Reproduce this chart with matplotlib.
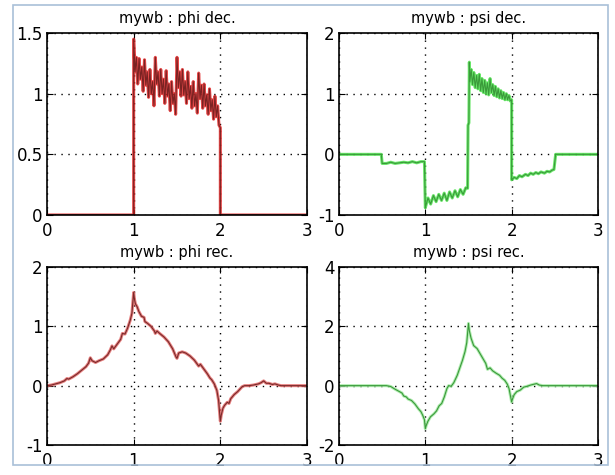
import matplotlib
matplotlib.use("Agg")
import matplotlib.pyplot as plt
from matplotlib.patches import Rectangle

# phi dec : sawtooth on [1, 2], read at 1/64 steps
phi_dec_x = [0, 1.0,
             1.0, 1.0156, 1.0312, 1.0469, 1.0625, 1.0781, 1.0938, 1.1094,
             1.125, 1.1406, 1.1562, 1.1719, 1.1875, 1.2031, 1.2188, 1.2344,
             1.25, 1.2656, 1.2812, 1.2969, 1.3125, 1.3281, 1.3438, 1.3594,
             1.375, 1.3906, 1.4062, 1.4219, 1.4375, 1.4531, 1.4688, 1.4844,
             1.5, 1.5156, 1.5312, 1.5469, 1.5625, 1.5781, 1.5938, 1.6094,
             1.625, 1.6406, 1.6562, 1.6719, 1.6875, 1.7031, 1.7188, 1.7344,
             1.75, 1.7656, 1.7812, 1.7969, 1.8125, 1.8281, 1.8438, 1.8594,
             1.875, 1.8906, 1.9062, 1.9219, 1.9375, 1.9531, 1.9688, 1.9844,
             2.0, 2.0, 3.0]
phi_dec_y = [0, 0,
             1.45, 1.18, 1.30, 1.08, 1.29, 1.12, 1.22, 1.02,
             1.28, 1.07, 1.18, 0.97, 1.20, 1.00, 1.10, 0.90,
             1.30, 1.08, 1.18, 0.98, 1.20, 1.00, 1.12, 0.92,
             1.19, 0.98, 1.08, 0.86, 1.10, 0.92, 1.00, 0.83,
             1.30, 1.05, 1.18, 0.98, 1.20, 0.99, 1.10, 0.92,
             1.18, 0.96, 1.06, 0.88, 1.10, 0.90, 1.00, 0.84,
             1.17, 0.96, 1.07, 0.88, 1.08, 0.90, 0.99, 0.83,
             1.04, 0.86, 0.95, 0.79, 0.98, 0.81, 0.90, 0.74,
             0.72, 0, 0]

# psi dec
psi_dec_x = [0, 0.49, 0.5, 0.55, 0.6, 0.65, 0.7, 0.75, 0.8, 0.85, 0.9, 0.95, 0.99,
             1.0, 1.031, 1.062, 1.094, 1.125, 1.156, 1.188, 1.219, 1.25, 1.281,
             1.312, 1.344, 1.375, 1.406, 1.438, 1.469, 1.49, 1.495, 1.505, 1.51,
             1.516, 1.531, 1.547, 1.562, 1.578, 1.594, 1.609, 1.625, 1.641, 1.656,
             1.672, 1.688, 1.703, 1.719, 1.734, 1.75, 1.766, 1.781, 1.797, 1.812,
             1.828, 1.844, 1.859, 1.875, 1.891, 1.906, 1.922, 1.938, 1.953, 1.969,
             1.984, 2.0, 2.0, 2.03, 2.06, 2.09, 2.12, 2.16, 2.19, 2.22, 2.25, 2.28,
             2.31, 2.34, 2.38, 2.41, 2.44, 2.47, 2.49, 2.51, 3.0]
psi_dec_y = [0, 0, -0.15, -0.15, -0.13, -0.15, -0.14, -0.13, -0.14, -0.12, -0.14, -0.12, -0.12,
             -0.88, -0.72, -0.82, -0.68, -0.78, -0.66, -0.76, -0.64, -0.76, -0.62,
             -0.72, -0.60, -0.70, -0.58, -0.66, -0.55, -0.56, 0.48, 0.52, 1.52,
             1.20, 1.40, 1.15, 1.35, 1.10, 1.30, 1.08, 1.32, 1.05, 1.25,
             1.02, 1.22, 1.00, 1.18, 0.98, 1.25, 1.02, 1.15, 0.97, 1.12,
             0.95, 1.08, 0.93, 1.05, 0.92, 1.02, 0.90, 1.00, 0.90, 0.97,
             0.88, 0.90, -0.42, -0.38, -0.40, -0.35, -0.37, -0.33, -0.35, -0.31, -0.33, -0.30,
             -0.32, -0.29, -0.31, -0.28, -0.29, -0.26, -0.25, 0, 0]

# phi rec
phi_rec_x = [0, 0.05, 0.1, 0.15, 0.2, 0.23, 0.25, 0.3, 0.35, 0.4, 0.45, 0.48, 0.5, 0.52,
             0.56, 0.6, 0.65, 0.7, 0.73, 0.75, 0.77, 0.8, 0.85, 0.87, 0.9, 0.93, 0.96,
             0.98, 1.0, 1.01, 1.02, 1.04, 1.06, 1.09, 1.12, 1.13, 1.16, 1.2, 1.24, 1.25,
             1.27, 1.3, 1.35, 1.4, 1.45, 1.49, 1.5, 1.52, 1.56, 1.6, 1.65, 1.7, 1.75,
             1.77, 1.8, 1.85, 1.88, 1.9, 1.93, 1.96, 1.98, 2.0, 2.01, 2.03, 2.05, 2.08,
             2.1, 2.12, 2.16, 2.2, 2.25, 2.28, 2.33, 2.38, 2.44, 2.47, 2.5, 2.53, 2.56,
             2.6, 2.63, 2.67, 2.7, 3.0]
phi_rec_y = [0, 0.01, 0.03, 0.05, 0.08, 0.12, 0.11, 0.15, 0.2, 0.26, 0.32, 0.38, 0.47, 0.42,
             0.39, 0.42, 0.45, 0.52, 0.6, 0.67, 0.62, 0.68, 0.78, 0.88, 0.87, 0.97, 1.1,
             1.22, 1.57, 1.45, 1.38, 1.33, 1.25, 1.17, 1.15, 1.08, 1.05, 1.0, 0.92, 0.88,
             0.92, 0.88, 0.82, 0.74, 0.62, 0.48, 0.46, 0.55, 0.57, 0.55, 0.5, 0.43, 0.33,
             0.36, 0.3, 0.2, 0.13, 0.1, 0.03, -0.08, -0.25, -0.6, -0.5, -0.38, -0.33, -0.28,
             -0.3, -0.22, -0.15, -0.1, -0.02, 0.0, 0.0, 0.01, 0.03, 0.05, 0.08, 0.04, 0.04,
             0.02, 0.03, 0.01, 0.0, 0.0]

# psi rec
psi_rec_x = [0, 0.55, 0.6, 0.65, 0.7, 0.73, 0.75, 0.78, 0.8, 0.84, 0.88, 0.92, 0.95, 0.97,
             0.99, 1.0, 1.01, 1.03, 1.06, 1.1, 1.13, 1.16, 1.19, 1.22, 1.25, 1.27, 1.3,
             1.33, 1.37, 1.4, 1.43, 1.46, 1.48, 1.5, 1.51, 1.53, 1.56, 1.6, 1.63, 1.66,
             1.7, 1.72, 1.75, 1.78, 1.82, 1.86, 1.89, 1.92, 1.95, 1.97, 2.0, 2.01, 2.03,
             2.06, 2.1, 2.14, 2.18, 2.22, 2.26, 2.29, 2.32, 2.36, 3.0]
psi_rec_y = [0, 0, -0.03, -0.12, -0.2, -0.25, -0.35, -0.38, -0.45, -0.5, -0.62, -0.78, -0.88, -1.0,
             -1.15, -1.45, -1.35, -1.2, -1.05, -0.95, -0.85, -0.68, -0.6, -0.38, -0.1, 0.0, -0.02,
             0.1, 0.35, 0.6, 0.85, 1.15, 1.45, 2.1, 1.85, 1.6, 1.35, 1.25, 1.1, 0.95,
             0.75, 0.55, 0.6, 0.5, 0.42, 0.35, 0.25, 0.18, 0.05, -0.1, -0.55, -0.45, -0.3,
             -0.2, -0.15, -0.05, -0.02, 0.02, 0.05, 0.07, 0.02, 0.0, 0]

titles = ["mywb : phi dec.", "mywb : psi dec.", "mywb : phi rec.", "mywb : psi rec."]
ylims = [(0, 1.5), (-1, 2), (-1, 2), (-2, 4)]
yticks = [[0, 0.5, 1, 1.5], [-1, 0, 1, 2], [-1, 0, 1, 2], [-2, 0, 2, 4]]
ytick_labels = [["0", "0.5", "1", "1.5"], ["-1", "0", "1", "2"],
                ["-1", "0", "1", "2"], ["-2", "0", "2", "4"]]
xticks = [0, 1, 2, 3]

fig = plt.figure(figsize=(6.15, 4.75), dpi=100)
fig.patches.append(Rectangle((13 / 615, 1 - 465 / 475), 595 / 615, 460 / 475,
                             transform=fig.transFigure, fill=False,
                             edgecolor="#a9c0d8", linewidth=1.2))

positions = [[0.0764, 0.5474, 0.4228, 0.383], [0.5512, 0.5474, 0.4211, 0.383],
             [0.0764, 0.0632, 0.4228, 0.3747], [0.5512, 0.0632, 0.4211, 0.3747]]
# (x, y, glow colour, core colour)
data = [(phi_dec_x, phi_dec_y, "#e01c1c", "#7a2222"),
        (psi_dec_x, psi_dec_y, "#44e044", "#3a9a3a"),
        (phi_rec_x, phi_rec_y, "#e06060", "#7a2a2a"),
        (psi_rec_x, psi_rec_y, "#9ee89e", "#3a9a3a")]

for i in range(4):
    ax = fig.add_axes(positions[i])
    x, y, glow, core = data[i]
    ax.plot(x, y, color=glow, linewidth=2.2, alpha=0.8)
    ax.plot(x, y, color=core, linewidth=0.8)
    ax.set_xlim(0, 3)
    ax.set_ylim(*ylims[i])
    ax.set_xticks(xticks)
    ax.set_xticklabels([str(t) for t in xticks])
    ax.set_yticks(yticks[i])
    ax.set_yticklabels(ytick_labels[i])
    ax.grid(True, linestyle=(0, (1, 4)), color="black", linewidth=1.0)
    ax.tick_params(direction="in", length=4, top=True, right=True, labelsize=12)
    ax.tick_params(axis="x", pad=5)
    ax.tick_params(axis="y", pad=3)
    for s in ax.spines.values():
        s.set_linewidth(1.2)
    ax.set_title(titles[i], fontsize=10.5, pad=7)

fig.savefig("out.png", dpi=100)
